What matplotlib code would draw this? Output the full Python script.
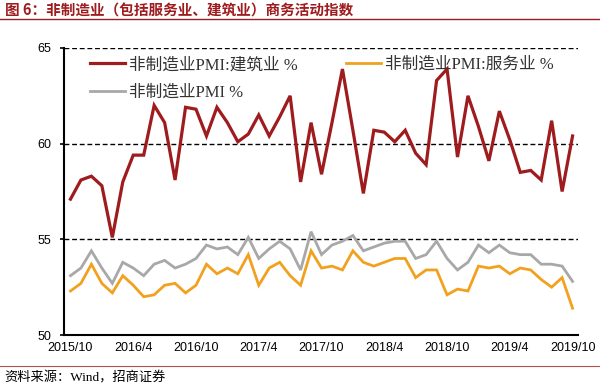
import numpy as np
import matplotlib
matplotlib.use("Agg")
import matplotlib.pyplot as plt
from matplotlib.lines import Line2D

# monthly data, 2015/10 .. 2019/10
construction = [57.1, 58.1, 58.3, 57.8, 55.1, 58.0, 59.4, 59.4, 62.0, 61.1, 58.1, 61.9,
                61.8, 60.4, 61.9, 61.1, 60.1, 60.5, 61.5, 60.4, 61.4, 62.5, 58.0, 61.1,
                58.4, 61.1, 63.9, 60.7, 57.4, 60.7, 60.6, 60.1, 60.7, 59.5, 58.9, 63.3,
                63.9, 59.3, 62.5, 60.9, 59.1, 61.7, 60.2, 58.5, 58.6, 58.1, 61.2, 57.5,
                60.4]
services = [52.3, 52.7, 53.7, 52.7, 52.2, 53.1, 52.6, 52.0, 52.1, 52.6, 52.7, 52.2,
            52.6, 53.7, 53.2, 53.5, 53.2, 54.2, 52.6, 53.5, 53.8, 53.1, 52.6, 54.4,
            53.5, 53.6, 53.4, 54.4, 53.8, 53.6, 53.8, 54.0, 54.0, 53.0, 53.4, 53.4,
            52.1, 52.4, 52.3, 53.6, 53.5, 53.6, 53.2, 53.5, 53.4, 52.9, 52.5, 53.0,
            51.4]
nonmfg = [53.1, 53.5, 54.4, 53.5, 52.7, 53.8, 53.5, 53.1, 53.7, 53.9, 53.5, 53.7,
          54.0, 54.7, 54.5, 54.6, 54.2, 55.1, 54.0, 54.5, 54.9, 54.5, 53.4, 55.4,
          54.2, 54.7, 54.9, 55.2, 54.4, 54.6, 54.8, 54.9, 54.9, 54.0, 54.2, 54.9,
          54.0, 53.4, 53.8, 54.7, 54.3, 54.7, 54.3, 54.2, 54.2, 53.7, 53.7, 53.6,
          52.8]
tick_labels = ["2015/10", "2016/4", "2016/10", "2017/4", "2017/10",
               "2018/4", "2018/10", "2019/4", "2019/10"]

cjk = ["Liberation Serif", "Noto Sans CJK SC"]
red = "#9E1B1E"
orange = "#F2A11F"
grey = "#A8A8A8"

fig = plt.figure(figsize=(6, 3.9), dpi=100)
ax = fig.add_axes([0.107, 0.141, 0.856, 0.736])

x = np.arange(len(construction))
l1, = ax.plot(x, construction, color=red, lw=2.3, solid_joinstyle="miter")
l2, = ax.plot(x, services, color=orange, lw=2.0, solid_joinstyle="miter")
l3, = ax.plot(x, nonmfg, color=grey, lw=2.0, solid_joinstyle="miter")

ax.set_xlim(-0.6, 48.5)
ax.set_ylim(50, 65)
ax.set_yticks([50, 55, 60, 65])
ax.set_xticks(np.arange(0, 49, 6))
ax.set_xticklabels(tick_labels, fontsize=9, family="Liberation Sans")
ax.set_yticklabels(["50", "55", "60", "65"], fontsize=9, family="Liberation Sans")
ax.tick_params(axis="x", length=0, pad=5)
ax.tick_params(axis="y", length=3, width=1.2, pad=6)
for y in [55, 60, 65]:
    ax.axhline(y, color="black", lw=1.0, ls=(0, (3.5, 2)), zorder=0)
for s in ["top", "right"]:
    ax.spines[s].set_visible(False)
ax.spines["left"].set_linewidth(1.5)
ax.spines["bottom"].set_linewidth(1.5)

leg = ax.legend([l1, l3, l2],
                ["非制造业PMI:建筑业 %", "非制造业PMI %", "非制造业PMI:服务业 %"],
                ncol=2, loc="upper left", bbox_to_anchor=(0.05, 0.968),
                frameon=False, prop={"family": cjk, "size": 12},
                handlelength=2.1, handletextpad=0.25, labelspacing=0.68,
                columnspacing=2.9, borderaxespad=0, borderpad=0)
for t in leg.get_texts():
    t.set_color("#333333")

# header and footer
fig.text(0.008, 0.972, "图 6：非制造业（包括服务业、建筑业）商务活动指数",
         family=["Noto Sans CJK SC", "DejaVu Sans"], fontsize=10.5,
         fontweight="bold", color=red, va="center", ha="left")
fig.add_artist(Line2D([0, 1], [0.951, 0.951], transform=fig.transFigure,
                      color=red, lw=1.0))
fig.add_artist(Line2D([0, 1], [0.061, 0.061], transform=fig.transFigure,
                      color="#B05050", lw=0.8))
fig.text(0.008, 0.03, "资料来源：Wind，招商证券", family=cjk, fontsize=9.5,
         color="black", va="center", ha="left")

fig.savefig("out.png", dpi=100)
